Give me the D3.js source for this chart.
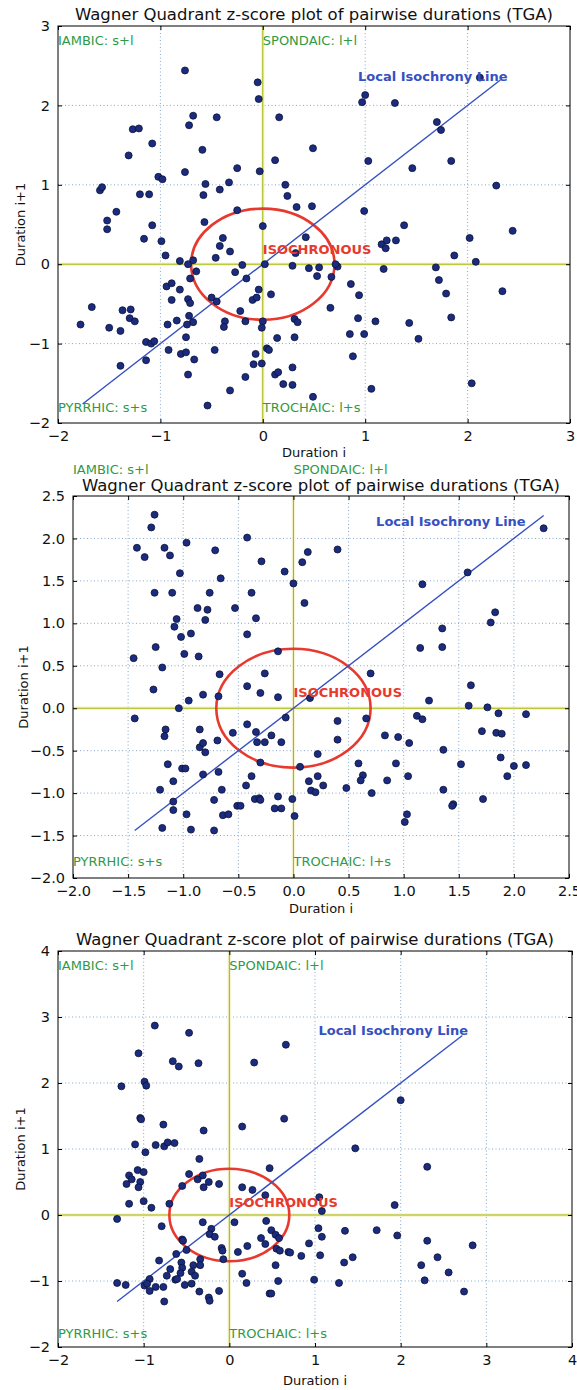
<!DOCTYPE html>
<html><head><meta charset="utf-8">
<script src="https://cdn.jsdelivr.net/npm/d3@7"></script>
<style>
body{margin:0;background:#fff}
svg{display:block;font-family:"DejaVu Sans",sans-serif}
</style>
</head><body>
<svg id="chart" width="577" height="1390"></svg>
<script>
// chart text
const chartTitle = "Wagner Quadrant z-score plot of pairwise durations (TGA)";
const quadrantNames = ["IAMBIC: s+l", "SPONDAIC: l+l", "PYRRHIC: s+s", "TROCHAIC: l+s"];
const xTitle = "Duration i", yTitle = "Duration i+1";
const centreName = "ISOCHRONOUS", lineName = "Local Isochrony Line";

// tick values
const ticksA = [-2, -1, 0, 1, 2, 3];
const ticksB = [-2, -1.5, -1, -0.5, 0, 0.5, 1, 1.5, 2, 2.5];
const ticksC = [-2, -1, 0, 1, 2, 3, 4];

// isochrony line extent (x = y)
const lineA = [-1.76, 2.32], lineB = [-1.44, 2.27], lineC = [-1.31, 2.72];
const circleRadius = 0.7;

// points [duration i, duration i+1]
const pointsA = [
  [-0.76,2.44],[-0.05,2.29],[-0.04,2.08],[0.97,2.04],[1.0,2.13],[1.29,2.03],[2.12,2.35],[-0.68,1.87],[-0.45,1.85],
  [-0.72,1.75],[0.16,1.85],[-1.27,1.70],[-1.21,1.71],[1.70,1.79],[1.74,1.69],[-1.08,1.52],[-1.31,1.37],[-0.59,1.44],
  [0.12,1.31],[-1.02,1.10],[-0.98,1.07],[-0.76,1.16],[-0.25,1.21],[-0.03,1.17],[-1.59,0.93],[-1.57,0.97],[-0.56,1.01],
  [-0.58,0.87],[-0.42,0.94],[-0.33,1.03],[-1.20,0.88],[-1.11,0.88],[0.22,1.0],[0.24,0.86],[0.33,0.72],[-1.43,0.66],
  [-1.52,0.55],[-1.52,0.44],[-0.25,0.68],[-1.08,0.49],[-0.57,0.53],[0.0,0.48],[-1.16,0.32],[-0.99,0.29],[-0.39,0.33],
  [-0.42,0.23],[-0.32,0.16],[-0.95,0.11],[-0.81,0.04],[-0.73,0.0],[-0.68,0.05],[-0.46,0.08],[-0.2,-0.01],[0.02,0.0],
  [0.29,-0.02],[0.32,0.14],[-0.65,-0.09],[-0.27,-0.1],[-0.16,-0.18],[-0.71,-0.18],[0.49,1.46],[1.03,1.30],[1.46,1.21],
  [1.84,1.30],[2.28,0.99],[0.48,0.73],[0.99,0.67],[1.38,0.49],[2.44,0.42],[0.42,0.34],[2.02,0.33],[1.16,0.25],
  [1.21,0.30],[1.2,0.2],[1.3,0.3],[1.87,0.11],[2.08,0.03],[0.45,-0.05],[0.55,-0.04],[0.73,-0.03],[0.71,0.0],
  [1.18,-0.06],[1.69,-0.04],[0.53,-0.15],[0.67,-0.16],[1.72,-0.2],[-0.94,-0.28],[-0.89,-0.24],[-0.81,-0.32],
  [-0.04,-0.32],[0.08,-0.38],[-0.1,-0.45],[-0.06,-0.42],[-0.5,-0.42],[-0.45,-0.47],[-0.89,-0.45],[-0.73,-0.44],
  [-0.71,-0.49],[-1.67,-0.54],[-1.78,-0.76],[-1.37,-0.58],[-1.29,-0.57],[-1.3,-0.68],[-1.25,-0.72],[-1.5,-0.8],
  [-1.39,-0.84],[-0.22,-0.59],[-0.72,-0.65],[-0.68,-0.73],[-0.74,-0.76],[-0.84,-0.71],[-0.93,-0.76],[-0.37,-0.72],
  [-0.38,-0.79],[-0.17,-0.72],[0.0,-0.72],[-0.01,-0.8],[-1.14,-0.98],[-1.09,-1.0],[-1.06,-0.97],[-0.75,-0.92],
  [0.14,-0.93],[0.31,-0.92],[-0.92,-1.08],[-0.8,-1.13],[-0.75,-1.11],[-0.47,-1.08],[0.04,-1.06],[0.06,-1.08],
  [-0.07,-1.13],[-1.14,-1.21],[-0.67,-1.2],[-0.09,-1.26],[-0.01,-1.25],[-1.39,-1.28],[-0.73,-1.39],[0.12,-1.39],
  [0.15,-1.36],[-0.17,-1.42],[0.29,-1.30],[0.2,-1.51],[0.29,-1.52],[-0.32,-1.59],[-0.54,-1.78],[0.31,-0.69],
  [0.34,-0.73],[0.86,-0.25],[0.94,-0.39],[1.79,-0.37],[2.34,-0.34],[0.66,-0.55],[0.93,-0.68],[1.1,-0.72],
  [1.43,-0.74],[1.84,-0.67],[0.85,-0.88],[0.99,-0.88],[1.52,-0.94],[0.88,-1.16],[0.49,-1.67],[1.06,-1.57],[2.04,-1.5]
];
const pointsB = [
  [-1.26,2.28],[-1.29,2.13],[-1.42,1.89],[-1.35,1.78],[-1.17,1.89],[-1.12,1.8],[-0.97,1.95],[-0.71,1.86],[-0.42,2.01],
  [-0.29,1.73],[-0.08,1.61],[-1.03,1.59],[-0.66,1.53],[-1.26,1.36],[-1.10,1.36],[-0.76,1.36],[-0.38,1.36],[-0.87,1.18],
  [-0.78,1.16],[-0.53,1.18],[-1.06,1.05],[-1.08,0.96],[-0.8,1.04],[-0.34,1.06],[-0.93,0.88],[-1.02,0.84],[-0.42,0.87],
  [-1.25,0.72],[-1.45,0.59],[-0.99,0.64],[-0.86,0.61],[-0.14,0.67],[-1.19,0.48],[-0.67,0.4],[-0.26,0.41],[-1.27,0.22],
  [-0.42,0.26],[-0.3,0.18],[-0.82,0.16],[0.08,1.72],[0.13,1.84],[0.40,1.87],[0.0,1.47],[0.10,1.24],[1.17,1.46],
  [1.58,1.6],[2.27,2.12],[1.83,1.13],[1.79,1.01],[1.35,0.94],[1.15,0.71],[1.35,0.72],[0.70,0.41],[1.61,0.27],
  [-0.68,0.14],[-0.14,0.13],[-0.95,0.09],[-1.04,0.0],[-1.44,-0.12],[-0.07,-0.11],[-1.16,-0.25],[-1.17,-0.33],
  [-0.85,-0.25],[-0.42,-0.19],[-0.55,-0.29],[-0.34,-0.28],[-0.69,-0.38],[-0.33,-0.4],[-0.26,-0.4],[-0.2,-0.32],
  [-0.11,-0.4],[-0.85,-0.46],[-0.82,-0.41],[-0.8,-0.52],[-0.3,-0.64],[-1.14,-0.66],[-1.01,-0.71],[-0.98,-0.71],
  [-0.68,-0.75],[-0.82,-0.78],[-0.38,-0.8],[-1.09,-0.86],[-0.43,-0.91],[-1.21,-0.96],[-0.65,-0.96],[-0.14,-1.04],
  [-0.35,-1.07],[-0.31,-1.06],[-0.3,-1.08],[-0.72,-1.08],[-1.09,-1.1],[-1.09,-1.2],[-0.51,-1.15],[-0.48,-1.15],
  [-0.17,-1.18],[-0.11,-1.18],[-0.97,-1.25],[-0.64,-1.26],[-0.59,-1.25],[-1.19,-1.41],[-0.93,-1.43],[-0.72,-1.44],
  [0.15,0.12],[1.23,0.09],[1.59,0.03],[1.76,0.01],[1.12,-0.09],[1.17,-0.13],[1.86,-0.06],[2.11,-0.07],[0.40,-0.15],
  [0.66,-0.12],[0.40,-0.37],[0.83,-0.32],[0.95,-0.34],[1.05,-0.41],[1.71,-0.27],[1.84,-0.29],[1.89,-0.3],[1.36,-0.49],
  [0.22,-0.54],[1.88,-0.58],[0.06,-0.69],[0.59,-0.65],[0.93,-0.65],[1.52,-0.66],[2.0,-0.68],[2.11,-0.67],[0.22,-0.8],
  [0.63,-0.79],[0.61,-0.85],[1.04,-0.8],[1.94,-0.8],[0.14,-0.86],[0.27,-0.91],[0.85,-0.85],[0.48,-0.94],[0.16,-0.97],
  [0.2,-0.99],[0.71,-1.0],[1.36,-0.96],[-0.01,-1.07],[1.72,-1.07],[1.45,-1.13],[1.44,-1.15],[1.03,-1.25],[1.01,-1.34],
  [0.01,-1.27]
];
const pointsC = [
  [-0.87,2.87],[-0.47,2.76],[0.66,2.58],[-1.06,2.45],[-0.66,2.33],[-0.59,2.25],[-0.36,2.30],[0.29,2.31],[-1.26,1.95],
  [-0.99,2.02],[-0.97,1.96],[-1.04,1.47],[-1.03,1.45],[-0.77,1.37],[-0.30,1.28],[0.15,1.34],[0.64,1.46],[-1.10,1.07],
  [-0.86,1.06],[-0.76,1.04],[-0.72,1.1],[-0.64,1.09],[-0.98,0.95],[-0.35,0.85],[-1.07,0.68],[-1.0,0.65],[-1.17,0.6],
  [-1.14,0.54],[-1.04,0.5],[-1.2,0.47],[-1.06,0.42],[-0.47,0.62],[-0.37,0.54],[-0.31,0.6],[-0.24,0.5],[-0.55,0.44],
  [-0.3,0.42],[-0.12,0.47],[0.47,0.71],[0.15,0.42],[0.27,0.38],[0.42,0.3],[-1.0,0.21],[-1.17,0.17],[-0.7,0.17],
  [-0.91,0.11],[-1.31,-0.06],[-0.31,-0.11],[0.06,-0.11],[0.43,-0.09],[-0.79,-0.17],[-0.21,-0.21],[-0.23,-0.29],
  [-0.17,-0.33],[0.49,-0.23],[0.54,-0.3],[0.37,-0.35],[0.42,-0.44],[-0.55,-0.37],[-0.54,-0.39],[0.58,-0.35],
  [-0.09,-0.5],[-0.08,-0.54],[0.21,-0.47],[0.1,-0.56],[0.55,-0.51],[0.59,-0.54],[-0.5,-0.53],[-0.62,-0.59],
  [-0.07,-0.67],[-0.34,-0.67],[-0.82,-0.69],[-0.56,-0.72],[-0.42,-0.76],[-0.34,-0.76],[-0.55,-0.8],[-0.69,-0.82],
  [0.54,-0.76],[-0.57,-0.88],[-0.44,-0.86],[-0.73,-0.92],[-0.4,-0.92],[0.15,-0.89],[-0.63,-0.98],[-0.61,-0.97],
  [-0.93,-0.97],[-1.31,-1.03],[-1.21,-1.06],[-0.99,-1.07],[-0.96,-1.04],[0.2,-1.03],[0.57,-1.0],[-0.52,-1.06],
  [-0.44,-1.04],[-0.86,-1.09],[-0.77,-1.09],[-0.93,-1.15],[-0.35,-1.16],[-0.12,-1.15],[0.47,-1.19],[0.49,-1.19],
  [-0.24,-1.25],[-0.23,-1.3],[-0.76,-1.31],[2.0,1.74],[1.47,1.01],[2.31,0.73],[1.93,0.15],[1.05,0.27],[1.08,0.06],
  [1.04,-0.2],[1.08,-0.33],[1.35,-0.24],[1.72,-0.23],[1.96,-0.31],[2.31,-0.39],[2.84,-0.46],[0.93,-0.43],[0.69,-0.56],
  [0.71,-0.57],[0.84,-0.62],[1.06,-0.61],[1.34,-0.72],[1.44,-0.64],[2.43,-0.64],[2.24,-0.76],[2.56,-0.87],[0.99,-0.98],
  [1.28,-1.03],[2.28,-0.99],[2.74,-1.16]
];

// panel layout (pixels) and where texts sit (data units)
const panels = [
  {pts: pointsA, ticks: ticksA, fmt: d3.format("d"), dom: [-2, 3], left: 58, right: 570, top: 26, bottom: 423,
   titleY: 14, xLabY: 452, yLabX: 20, topY: 2.82, line: lineA, lineText: [0.93, 2.37]},
  {pts: pointsB, ticks: ticksB, fmt: d3.format(".1f"), dom: [-2, 2.5], left: 73, right: 569, top: 496, bottom: 878,
   titleY: 485, xLabY: 908, yLabX: 23, topY: 2.81, line: lineB, lineText: [0.75, 2.2], coverFrom: 458},
  {pts: pointsC, ticks: ticksC, fmt: d3.format("d"), dom: [-2, 4], left: 58, right: 572, top: 951, bottom: 1347,
   titleY: 939, xLabY: 1380, yLabX: 20, topY: 3.78, line: lineC, lineText: [1.04, 2.79]}
];

const svg = d3.select("#chart");
const green = "#2f9a45", red = "#e8392e", blue = "#3550c0";

panels.forEach(p => {
  // the lower figure is pasted over the bottom edge of the one above
  if (p.coverFrom) {
    svg.append("rect").attr("x", 0).attr("y", p.coverFrom).attr("width", 577).attr("height", 4).attr("fill", "#fff");
  }
  const g = svg.append("g");
  const x = d3.scaleLinear().domain(p.dom).range([p.left, p.right]);
  const y = d3.scaleLinear().domain(p.dom).range([p.bottom, p.top]);
  const inner = p.ticks.filter(t => t > p.dom[0] && t < p.dom[1]);

  // grid
  g.append("g").selectAll("line").data(inner).join("line")
    .attr("x1", d => x(d)).attr("x2", d => x(d)).attr("y1", p.top).attr("y2", p.bottom)
    .attr("stroke", "#86a8cc").attr("stroke-width", 1).attr("stroke-dasharray", "1,2.5");
  g.append("g").selectAll("line").data(inner).join("line")
    .attr("y1", d => y(d)).attr("y2", d => y(d)).attr("x1", p.left).attr("x2", p.right)
    .attr("stroke", "#86a8cc").attr("stroke-width", 1).attr("stroke-dasharray", "1,2.5");

  // zero lines
  [["#f6f4d2", 3.5], ["#a6b400", 1]].forEach(([c, w]) => {
    g.append("line").attr("x1", p.left).attr("x2", p.right).attr("y1", y(0)).attr("y2", y(0))
      .attr("stroke", c).attr("stroke-width", w);
    g.append("line").attr("x1", x(0)).attr("x2", x(0)).attr("y1", p.top).attr("y2", p.bottom)
      .attr("stroke", c).attr("stroke-width", w);
  });

  // isochrony circle
  g.append("ellipse").attr("cx", x(0)).attr("cy", y(0))
    .attr("rx", x(circleRadius) - x(0)).attr("ry", y(0) - y(circleRadius))
    .attr("fill", "none").attr("stroke", red).attr("stroke-width", 2.6);

  // local isochrony line
  g.append("line").attr("x1", x(p.line[0])).attr("y1", y(p.line[0]))
    .attr("x2", x(p.line[1])).attr("y2", y(p.line[1]))
    .attr("stroke", blue).attr("stroke-width", 1.4);

  // points
  g.append("g").selectAll("circle").data(p.pts).join("circle")
    .attr("cx", d => x(d[0])).attr("cy", d => y(d[1])).attr("r", 3.5)
    .attr("fill", "#1b2c7e").attr("stroke", "#0b1238").attr("stroke-width", 0.8);

  // frame
  g.append("rect").attr("x", p.left).attr("y", p.top)
    .attr("width", p.right - p.left).attr("height", p.bottom - p.top)
    .attr("fill", "none").attr("stroke", "#000").attr("stroke-width", 1);

  // ticks, inward on all sides
  const axB = g.append("g").attr("transform", `translate(0,${p.bottom})`)
    .call(d3.axisBottom(x).tickValues(p.ticks).tickFormat(p.fmt).tickSize(-4).tickPadding(8));
  const axL = g.append("g").attr("transform", `translate(${p.left},0)`)
    .call(d3.axisLeft(y).tickValues(p.ticks).tickFormat(p.fmt).tickSize(-4).tickPadding(8));
  g.append("g").attr("transform", `translate(0,${p.top})`)
    .call(d3.axisTop(x).tickValues(p.ticks).tickFormat("").tickSize(-4));
  g.append("g").attr("transform", `translate(${p.right},0)`)
    .call(d3.axisRight(y).tickValues(p.ticks).tickFormat("").tickSize(-4));
  g.selectAll(".domain").remove();
  g.selectAll(".tick line").attr("stroke", "#000");
  [axB, axL].forEach(a => a.selectAll("text").attr("font-size", 14.5)
    .attr("font-family", "DejaVu Sans").attr("fill", "#111"));

  // quadrant labels
  const qpos = [[p.dom[0], p.topY], [0, p.topY], [p.dom[0], -1.8], [0, -1.8]];
  quadrantNames.forEach((t, k) => {
    g.append("text").attr("x", x(qpos[k][0])).attr("y", y(qpos[k][1]))
      .attr("dominant-baseline", "central").attr("font-size", 13).attr("fill", green).text(t);
  });

  g.append("text").attr("x", x(0)).attr("y", y(0.19)).attr("dominant-baseline", "central")
    .attr("font-size", 13).attr("font-weight", "bold").attr("fill", red).text(centreName);
  g.append("text").attr("x", x(p.lineText[0])).attr("y", y(p.lineText[1])).attr("dominant-baseline", "central")
    .attr("font-size", 13).attr("font-weight", "bold").attr("fill", blue).text(lineName);

  // titles
  g.append("text").attr("x", (p.left + p.right) / 2).attr("y", p.titleY).attr("dominant-baseline", "central")
    .attr("text-anchor", "middle").attr("font-size", 16.5).attr("fill", "#111").text(chartTitle);
  g.append("text").attr("x", (p.left + p.right) / 2).attr("y", p.xLabY).attr("dominant-baseline", "central")
    .attr("text-anchor", "middle").attr("font-size", 13).attr("fill", "#111").text(xTitle);
  g.append("text").attr("transform", `translate(${p.yLabX},${(p.top + p.bottom) / 2}) rotate(-90)`)
    .attr("dominant-baseline", "central").attr("text-anchor", "middle")
    .attr("font-size", 13).attr("fill", "#111").text(yTitle);
});
</script>
</body></html>
